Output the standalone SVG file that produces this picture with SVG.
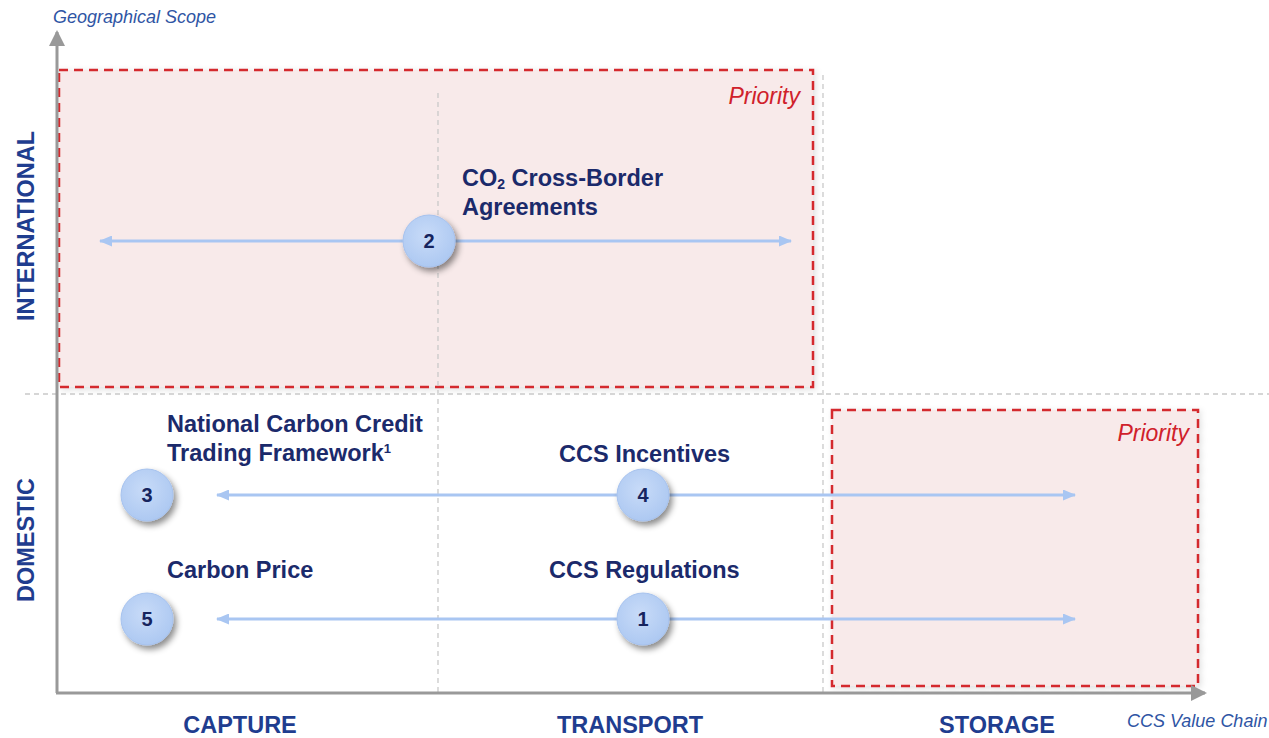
<svg xmlns="http://www.w3.org/2000/svg" width="1269" height="738" viewBox="0 0 1269 738">
  <style>
    .lbl { font-family: "Liberation Sans", Arial, sans-serif; font-weight: bold; fill: #1b2a6b; font-size: 23.5px; }
    .ax { font-family: "Liberation Sans", Arial, sans-serif; font-weight: bold; fill: #1f3d8f; font-size: 23.5px; }
    .axname { font-family: "Liberation Sans", Arial, sans-serif; font-style: italic; fill: #2f55a4; font-size: 18px; }
    .prio { font-family: "Liberation Sans", Arial, sans-serif; font-style: italic; fill: #d0212b; font-size: 23px; }
    .pbox { fill: #f8eaea; stroke: #d42a2e; stroke-width: 2.5; stroke-dasharray: 9 6; }
    .grid { stroke: #c9c9c9; stroke-width: 1.3; stroke-dasharray: 5 4; fill: none; }
    .axis { stroke: #999999; stroke-width: 3; fill: none; }
    .flow { stroke: #a9c6f2; stroke-width: 2.8; fill: none; marker-start: url(#tipStart); marker-end: url(#tipEnd); }
    .num { font-family: "Liberation Sans", Arial, sans-serif; font-weight: bold; fill: #16245e; font-size: 20px; text-anchor: middle; }
    .bub { fill: url(#bubFill); stroke: #a6c2ee; stroke-width: 1; filter: url(#shade); }
  </style>
  <defs>
    <radialGradient id="bubFill" cx="0.45" cy="0.4" r="0.65">
      <stop offset="0" stop-color="#c8dbf8"/>
      <stop offset="1" stop-color="#abc7f1"/>
    </radialGradient>
    <filter id="shade" x="-40%" y="-40%" width="190%" height="190%">
      <feDropShadow dx="3" dy="4" stdDeviation="3" flood-color="#000000" flood-opacity="0.45"/>
    </filter>
    <filter id="boxShade" x="-5%" y="-5%" width="110%" height="110%">
      <feDropShadow dx="2" dy="2" stdDeviation="3" flood-color="#000000" flood-opacity="0.12"/>
    </filter>
    <marker id="tipEnd" markerWidth="13" markerHeight="11" refX="12" refY="5.5" orient="auto" markerUnits="userSpaceOnUse" viewBox="0 0 13 11">
      <path d="M0,0 L13,5.5 L0,11 Z" fill="#a9c6f2"/>
    </marker>
    <marker id="tipStart" markerWidth="13" markerHeight="11" refX="1" refY="5.5" orient="auto" markerUnits="userSpaceOnUse" viewBox="0 0 13 11">
      <path d="M13,0 L0,5.5 L13,11 Z" fill="#a9c6f2"/>
    </marker>
    <marker id="axTip" markerWidth="16" markerHeight="16" refX="14" refY="8" orient="auto" markerUnits="userSpaceOnUse" viewBox="0 0 16 16">
      <path d="M0,0 L16,8 L0,16 Z" fill="#999999"/>
    </marker>
  </defs>

  <rect width="1269" height="738" fill="#ffffff"/>

  <!-- priority zones -->
  <g id="priority-international">
    <rect class="pbox" x="59" y="70" width="754" height="317" filter="url(#boxShade)"/>
    <text class="prio" x="800" y="104" text-anchor="end">Priority</text>
  </g>
  <g id="priority-storage">
    <rect class="pbox" x="832" y="410" width="366" height="276" filter="url(#boxShade)"/>
    <text class="prio" x="1189" y="441" text-anchor="end">Priority</text>
  </g>

  <!-- grid dividers -->
  <g id="grid">
    <line class="grid" x1="25" y1="394" x2="1269" y2="394"/>
    <line class="grid" x1="438" y1="93" x2="438" y2="692"/>
    <line class="grid" x1="823" y1="75" x2="823" y2="692"/>
  </g>

  <!-- axes -->
  <g id="axes">
    <line class="axis" x1="57" y1="693" x2="57" y2="32" marker-end="url(#axTip)"/>
    <line class="axis" x1="56" y1="693" x2="1205" y2="693" marker-end="url(#axTip)"/>
    <text class="axname" x="53" y="23">Geographical Scope</text>
    <text class="axname" x="1127" y="727">CCS Value Chain</text>
    <text class="ax" transform="translate(34,226) rotate(-90)" text-anchor="middle">INTERNATIONAL</text>
    <text class="ax" transform="translate(34,540) rotate(-90)" text-anchor="middle">DOMESTIC</text>
    <text class="ax" x="240" y="733" text-anchor="middle">CAPTURE</text>
    <text class="ax" x="630" y="733" text-anchor="middle">TRANSPORT</text>
    <text class="ax" x="997" y="733" text-anchor="middle">STORAGE</text>
  </g>

  <!-- scope connectors -->
  <g id="connectors">
    <line class="flow" x1="100" y1="241" x2="791" y2="241"/>
    <line class="flow" x1="217" y1="495" x2="1075" y2="495"/>
    <line class="flow" x1="217" y1="619" x2="1075" y2="619"/>
  </g>

  <!-- measures -->
  <g id="node-2">
    <circle class="bub" cx="429" cy="241" r="26"/>
    <text class="num" x="429" y="248">2</text>
    <text class="lbl" x="462" y="186">CO<tspan font-size="14" dy="3">2</tspan><tspan dy="-3"> Cross-Border</tspan></text>
    <text class="lbl" x="462" y="215">Agreements</text>
  </g>
  <g id="node-3">
    <circle class="bub" cx="147" cy="495" r="26"/>
    <text class="num" x="147" y="502">3</text>
    <text class="lbl" x="167" y="432">National Carbon Credit</text>
    <text class="lbl" x="167" y="461">Trading Framework<tspan font-size="13" dy="-8">1</tspan></text>
  </g>
  <g id="node-4">
    <circle class="bub" cx="643" cy="495" r="26"/>
    <text class="num" x="643" y="502">4</text>
    <text class="lbl" x="559" y="462">CCS Incentives</text>
  </g>
  <g id="node-5">
    <circle class="bub" cx="147" cy="619" r="26"/>
    <text class="num" x="147" y="626">5</text>
    <text class="lbl" x="167" y="578">Carbon Price</text>
  </g>
  <g id="node-1">
    <circle class="bub" cx="643" cy="619" r="26"/>
    <text class="num" x="643" y="626">1</text>
    <text class="lbl" x="549" y="578">CCS Regulations</text>
  </g>
</svg>
